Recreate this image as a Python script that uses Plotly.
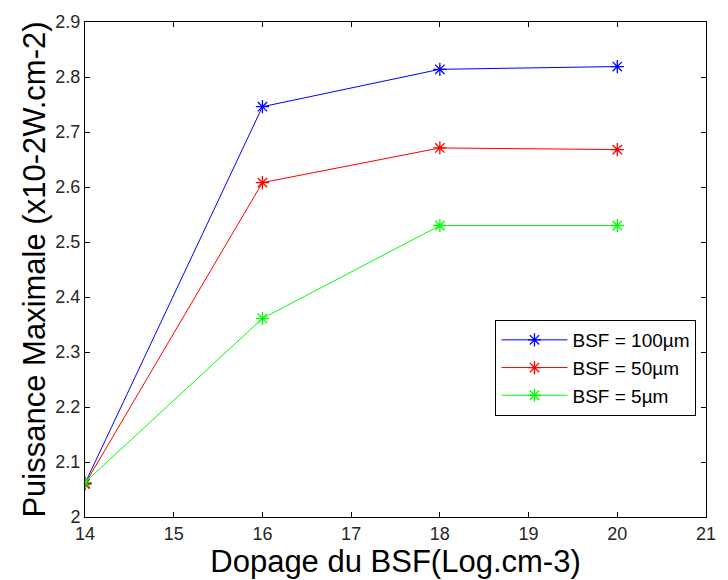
import plotly.graph_objects as go

dopage = [14, 16, 18, 20]
bsf_100 = [2.061, 2.746, 2.814, 2.819]
bsf_50 = [2.060, 2.608, 2.671, 2.668]
bsf_5 = [2.063, 2.361, 2.530, 2.530]
series_names = ["BSF = 100µm", "BSF = 50µm", "BSF = 5µm"]
colors = ["#0000ff", "#ff0000", "#00ff00"]
x_ticks = [14, 15, 16, 17, 18, 19, 20, 21]
y_ticks = [2.0, 2.1, 2.2, 2.3, 2.4, 2.5, 2.6, 2.7, 2.8, 2.9]
y_tick_labels = ["2", "2.1", "2.2", "2.3", "2.4", "2.5", "2.6", "2.7", "2.8", "2.9"]

fig = go.Figure()
for name, vals, c in zip(series_names, [bsf_100, bsf_50, bsf_5], colors):
    fig.add_trace(go.Scatter(
        x=dopage, y=vals, name=name, mode="lines+markers",
        line=dict(color=c, width=1),
        marker=dict(symbol="asterisk-open", size=11, color=c, line=dict(color=c, width=1.3)),
    ))

axis_common = dict(
    showline=True, linecolor="black", linewidth=1, mirror="ticks",
    ticks="inside", ticklen=5, tickcolor="black", showgrid=False, zeroline=False,
    tickfont=dict(family="Liberation Sans, Arial, sans-serif", size=18, color="#262626"),
)

fig.update_layout(
    width=728, height=580,
    margin=dict(l=85, r=12, t=19, b=63),
    paper_bgcolor="white", plot_bgcolor="white",
    font=dict(family="Liberation Sans, Arial, sans-serif", color="black"),
    xaxis=dict(range=[14, 21], tickvals=x_ticks, ticklabelstandoff=0, ticklabeloverflow="allow",
               title=dict(text="Dopage du BSF(Log.cm-3)", font=dict(size=31), standoff=0), **axis_common),
    yaxis=dict(range=[2.0, 2.9], tickvals=y_ticks, ticktext=y_tick_labels,
               title=dict(text="Puissance Maximale (x10-2W.cm-2)", font=dict(size=31), standoff=0), **axis_common),
    legend=dict(x=0.661, y=0.398, xanchor="left", yanchor="top",
                bordercolor="black", borderwidth=1, bgcolor="white",
                font=dict(size=19, color="black"), tracegroupgap=0, itemwidth=66),
    showlegend=True,
)

fig.write_html("out.html")
